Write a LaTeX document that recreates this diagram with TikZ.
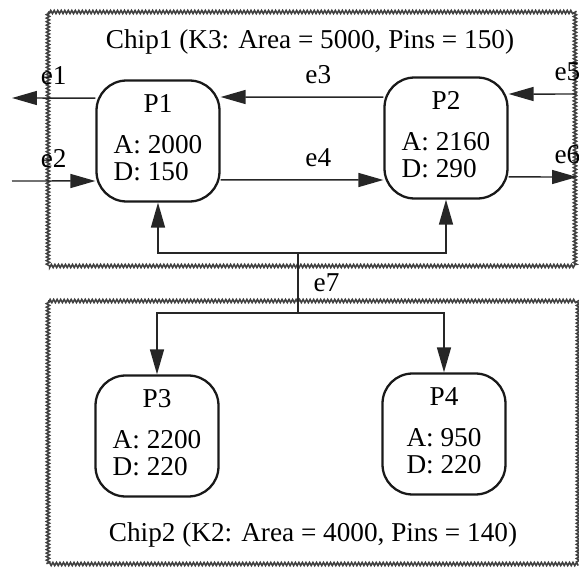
\documentclass[tikz,border=0pt]{standalone}
\usepackage{fontspec}
\setmainfont{Liberation Serif}
\usetikzlibrary{arrows.meta,decorations.pathmorphing}

% process box text: name centred, area and delay left aligned
\newcommand{\procinfo}[3]{%
  \begin{tabular}{@{}l@{}}\multicolumn{1}{@{}c@{}}{#1}\\[8pt] A: #2\\ D: #3\end{tabular}}

\begin{document}
\begin{tikzpicture}[
    x=0.02cm, y=-0.02cm,
    font=\fontsize{15.5}{15.5}\selectfont,
    proc/.style={draw=black!90, line width=1.3pt, rounded corners=0.6cm, fill=white,
                 minimum width=2.46cm, minimum height=2.42cm, align=center, inner sep=0pt},
    wire/.style={draw=black!85, line width=0.85pt},
    arr/.style={wire, -{Triangle[length=0.5cm, width=0.28cm]}},
    chip/.style={draw=black!75, line width=0.9pt, decorate,
                 decoration={zigzag, amplitude=0.9pt, segment length=2pt}},
    lbl/.style={inner sep=0pt} % Style for edge and chip labels
]

    % --- CHIP BOUNDARIES ---
    \useasboundingbox (0,0) rectangle (579,568);
    \draw[chip] (48,12) rectangle (575,266);
    \draw[chip] (48,301) rectangle (578,564);

    \node[lbl] (chip1) at (310,42) {Chip1 (K3: Area = 5000, Pins = 150)};
    \node[lbl] (chip2) at (313,535) {Chip2 (K2: Area = 4000, Pins = 140)};

    % --- PROCESSES ---
    \node[proc] (P1) at (158,141) {\procinfo{P1}{2000}{150}};
    \node[proc] (P2) at (446,138) {\procinfo{P2}{2160}{290}};
    \node[proc] (P3) at (157,436) {\procinfo{P3}{2200}{220}};
    \node[proc] (P4) at (444,434) {\procinfo{P4}{950}{220}};

    % Free ends of the external nets
    \coordinate (e1end) at (12,98);
    \coordinate (e2start) at (12,181);
    \coordinate (e5start) at (577,94);
    \coordinate (e6end) at (577,177);

    % Branch points of e7
    \coordinate (e7top) at (298,253);
    \coordinate (e7bot) at (298,313);

    % --- NETS ---
    \draw[arr] ([yshift=0.86cm]P1.west) -- node[lbl, above=0.25cm] {e1} (e1end);
    \draw[arr] (e2start) -- node[lbl, above=0.25cm] {e2} ([yshift=-0.8cm]P1.west);
    \draw[arr] ([yshift=0.82cm]P2.west) -- node[lbl, above=0.25cm, pos=0.4] {e3} ([yshift=0.88cm]P1.east);
    \draw[arr] ([yshift=-0.78cm]P1.east) -- node[lbl, above=0.25cm, pos=0.6] {e4} ([yshift=-0.84cm]P2.west);
    \draw[arr] (e5start) -- node[lbl, above=0.25cm, pos=0.14] {e5} ([yshift=0.88cm]P2.east);
    \draw[arr] ([yshift=-0.78cm]P2.east) -- node[lbl, above=0.25cm, pos=0.86] {e6} (e6end);

    \draw[wire] (e7top) -- node[lbl, right=0.3cm] {e7} (e7bot);
    \draw[arr] (e7top) -| (P1.south);
    \draw[arr] (e7top) -| (P2.south);
    \draw[arr] (e7bot) -| (P3.north);
    \draw[arr] (e7bot) -| (P4.north);

\end{tikzpicture}
\end{document}
